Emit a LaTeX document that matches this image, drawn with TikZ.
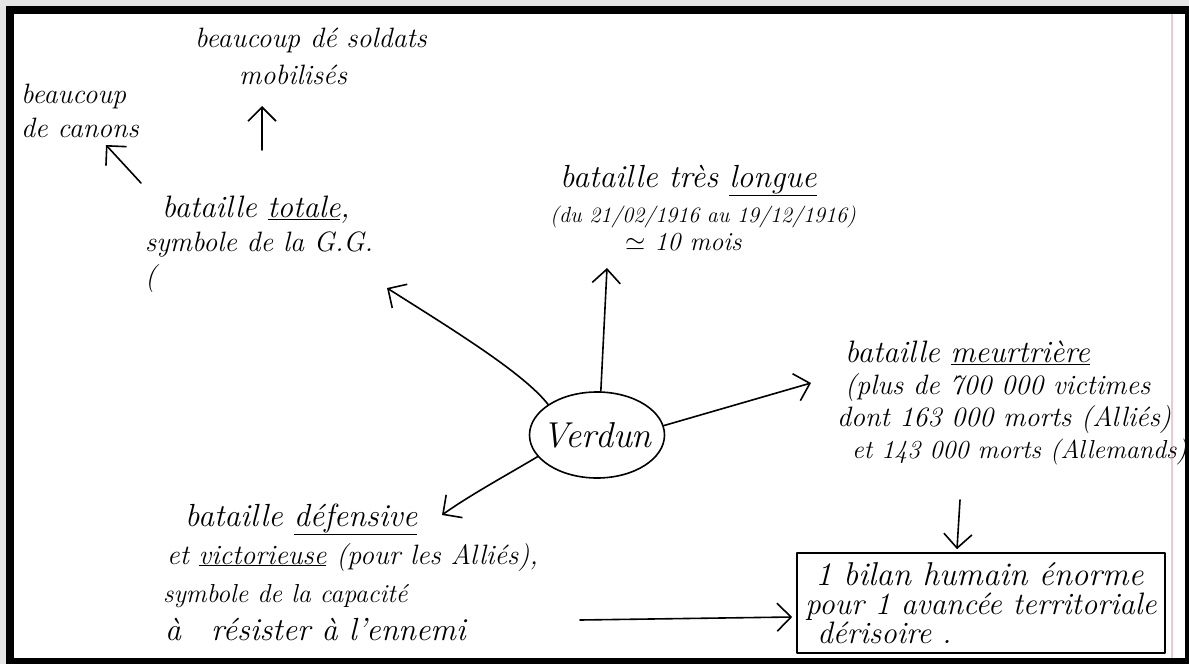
\RequirePackage{fix-cm}
\documentclass[tikz,border=0pt]{standalone}
\usetikzlibrary{arrows.meta,shapes.geometric}
\definecolor{marginpink}{RGB}{238,200,210}
\newcommand{\hw}[2]{\fontsize{#1}{#2}\selectfont\itshape}
\begin{document}
\begin{tikzpicture}[x=1pt,y=-1pt,
  hand/.style={inner sep=0pt, align=left, anchor=base west},
  pen/.style={line width=1.6pt, line cap=round, line join=round},
  link/.style={pen, -{Straight Barb[length=14pt,width=28pt]}}]
\useasboundingbox (0,0) rectangle (1189,664);
% scanned sheet with its dark frame and the pink margin line
\fill[black!10] (0,0) rectangle (1189,664);
\fill[black] (6,6) rectangle (1189,664);
\fill[white] (14,14) rectangle (1185,658);
\draw[marginpink, line width=1.2pt] (1172,14) -- (1172,658);

% central topic: the word is given no width so the ellipse keeps its own size
\node[draw, pen, ellipse, minimum width=135pt, minimum height=86pt, inner sep=0pt,
      font=\hw{36}{36}] (verdun) at (597,435) {\makebox[0pt]{Verdun}};

% top-left branch (each text node is placed by the baseline of its last line)
\node[hand, font=\hw{28}{34}] (totale) at (145,285)
  {\hspace*{17pt}{\hw{31}{34}bataille \underline{totale},}\\symbole de la G.G.\\(};
\node[hand, font=\hw{28}{37}] (soldats) at (195,84)
  {beaucoup dé soldats\\\hspace*{44pt}mobilisés};
\node[hand, font=\hw{28}{34}] (canons) at (21,137)
  {beaucoup\\de canons};

% top branch
\node[hand, font=\hw{32}{35}] (longue) at (550,250)
  {\hspace*{10pt}bataille très \underline{longue}\\
   {\hw{22}{35}(du 21/02/1916 au 19/12/1916)}\\[-7pt]
   \hspace*{75pt}{\hw{26}{30}$\simeq$ 10 mois}};

% right branch
\node[hand, font=\hw{28}{32}] (meurtriere) at (837,458)
  {\hspace*{8pt}{\hw{31}{32}bataille \underline{meurtrière}}\\
   \hspace*{8pt}(plus de 700 000 victimes\\
   dont 163 000 morts (Alliés)\\
   \hspace*{15pt}{\hw{26}{32}et 143 000 morts (Allemands)}};

% bottom-left branch
\node[hand, font=\hw{28}{38}] (defensive) at (163,640)
  {\hspace*{22pt}{\hw{32}{38}bataille \underline{défensive}}\\
   \hspace*{4pt}et \underline{victorieuse} (pour les Alliés),\\
   {\hw{26}{38}symbole de la capacité}\\
   \hspace*{2pt}{\hw{32}{38}à\hspace{30pt}résister à l'ennemi}};

% conclusion box
\node[draw, pen, rectangle, minimum width=368pt, minimum height=100pt, inner xsep=3pt,
      align=left, font=\hw{31}{29}] (bilan) at (981,603)
  {\hspace*{10pt}{\hw{33}{29}1 bilan humain énorme}\\pour 1 avancée territoriale\\\hspace*{12pt}dérisoire .};

% connectors
\draw[link] ([shift={(117,-135)}]totale.base west) -- ([shift={(67,22)}]soldats.base west);
\draw[link] ([shift={(-4,-102)}]totale.base west) -- ([shift={(85,8)}]canons.base west);
\draw[link] (verdun.148) .. controls +(-25,-32) and +(63,40) .. ([shift={(242,3)}]totale.base west);
\draw[link] (verdun.85) -- ([shift={(57,18)}]longue.base west);
\draw[link] (verdun.8) -- ([shift={(-26,-75)}]meurtriere.base west);
\draw[link] (verdun.200) .. controls +(-30,18) and +(28,-20) .. ([shift={(279,-125)}]defensive.base west);
\draw[link] ([shift={(123,42)}]meurtriere.base west) -- ([shift={(-24,-3)}]bilan.north);
\draw[link] ([shift={(417,-20)}]defensive.base west) -- ([shift={(-4,14)}]bilan.west);
\end{tikzpicture}
\end{document}
